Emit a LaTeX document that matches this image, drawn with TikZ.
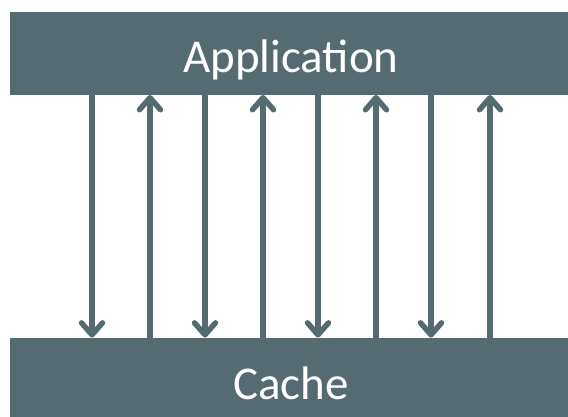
\documentclass[tikz,border=0pt]{standalone}
\usepackage{fontspec}
\setmainfont{Carlito}
\usetikzlibrary{arrows.meta}
\definecolor{slate}{RGB}{86,106,113}
\begin{document}
\begin{tikzpicture}[x=1pt,y=1pt,
  bar/.style={draw=none,fill=slate,minimum width=558pt,minimum height=83pt,inner sep=0pt,anchor=south west},
  lbl/.style={text=white,font=\fontsize{47}{47}\selectfont,anchor=base,inner sep=0pt},
  arr/.style={draw=slate,line width=5.5pt,-{Straight Barb[length=12pt,width=21pt,line width=5.5pt,line cap=round,line join=round]}}]
\useasboundingbox (0,0) rectangle (568,417);
\node[bar] (app) at (10,322) {};
\node[bar,minimum height=79pt] (cache) at (10,0) {};
\node[lbl] (apptext) at (291,344) {Application};
\node[lbl] (cachetext) at (291,17) {Cache};
\foreach \x in {92,205,318,431}
  \draw[arr] (\x,0 |- app.south) -- (\x,0 |- cache.north);
\foreach \x in {150,263,376,490}
  \draw[arr] (\x,0 |- cache.north) -- (\x,0 |- app.south);
\end{tikzpicture}
\end{document}
